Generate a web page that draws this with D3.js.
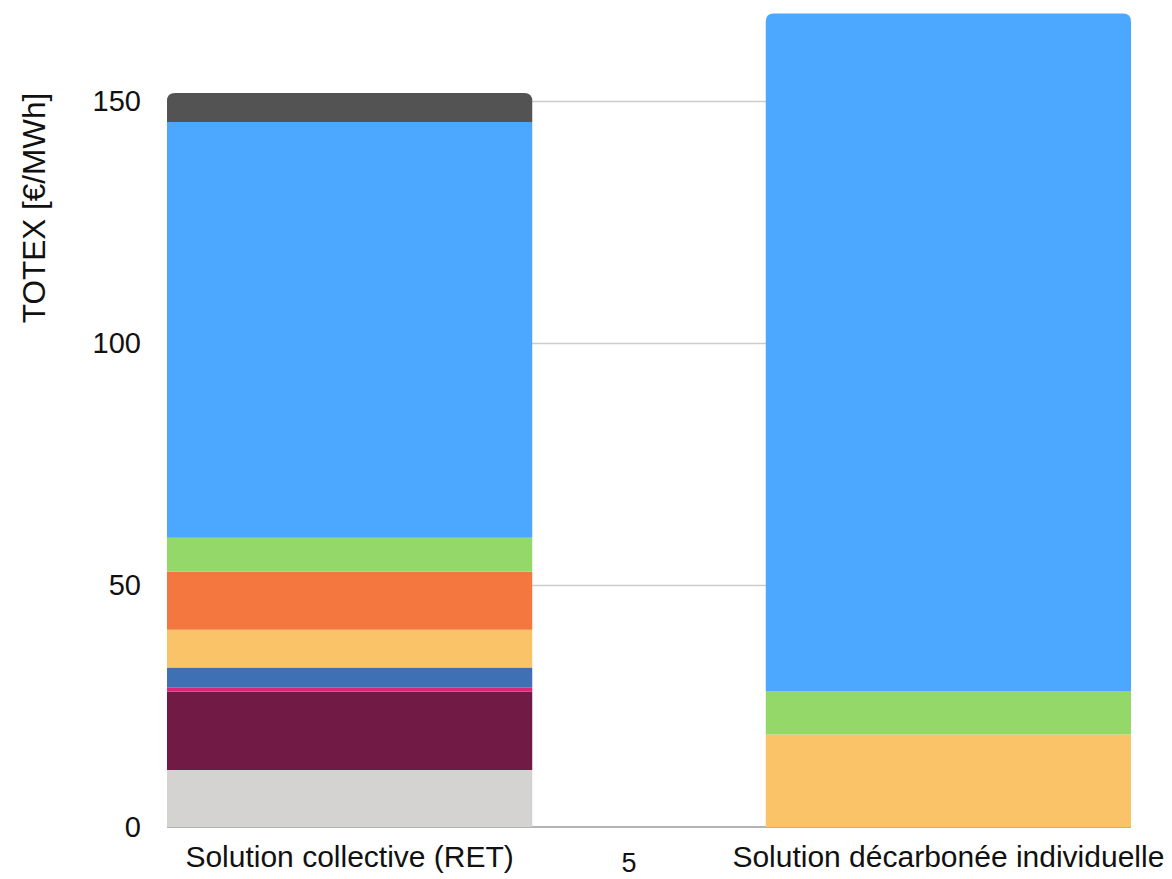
<!DOCTYPE html>
<html>
<head>
<meta charset="utf-8">
<script src="https://cdn.jsdelivr.net/npm/d3@7"></script>
<style>
  html, body { margin: 0; padding: 0; background: #fff; }
  svg { display: block; font-family: "Liberation Sans", Arial, sans-serif; }
</style>
</head>
<body>
<svg id="chart" width="1172" height="879"></svg>
<script>
// Solutions compared (x categories)
const categories = ["Solution collective (RET)", "Solution décarbonée individuelle"];

// Cost components, stacked bottom to top
const seriesKeys = ["s1", "s2", "s3", "s4", "s5", "s6", "s7", "s8", "s9"];
const seriesColors = ["#d4d3d2", "#721a46", "#e0247a", "#4070b4", "#fac367", "#f3773f", "#94d86a", "#4ba7ff", "#535353"];

// TOTEX per component [€/MWh], one array per solution
const collectiveValues  = [11.8, 16.2, 0.75, 4.2, 7.8, 12.0, 7.0, 85.9, 6.0];
const individualValues  = [0, 0, 0, 0, 19.1, 0, 9.0, 140.0, 0];

// Y axis ticks
const yTicks = [0, 50, 100, 150];
const yTitle = "TOTEX [€/MWh]";
const footLabel = "5";

const svg = d3.select("#chart");

const x = d3.scaleBand()
  .domain(categories)
  .range([167, 1131])
  .paddingInner(0.39)
  .paddingOuter(0);

const y = d3.scaleLinear()
  .domain([0, 170])
  .range([827, 827 - 170 * 4.84]);

const rows = categories.map((c, i) => {
  const vals = i === 0 ? collectiveValues : individualValues;
  const r = { category: c };
  seriesKeys.forEach((k, j) => r[k] = vals[j]);
  return r;
});

const stacked = d3.stack().keys(seriesKeys)(rows);

// Gridlines
svg.append("g")
  .selectAll("line")
  .data(yTicks.filter(t => t !== 0))
  .join("line")
  .attr("x1", x.range()[0])
  .attr("x2", x.range()[1])
  .attr("y1", d => Math.round(y(d)) + 0.5)
  .attr("y2", d => Math.round(y(d)) + 0.5)
  .attr("stroke", "#cccccc")
  .attr("stroke-width", 1.3);

// Baseline
svg.append("line")
  .attr("x1", x.range()[0])
  .attr("x2", x.range()[1])
  .attr("y1", y(0))
  .attr("y2", y(0))
  .attr("stroke", "#999999")
  .attr("stroke-width", 1.6);

// Topmost non-zero segment per category gets rounded top corners
const topKey = {};
rows.forEach(r => {
  let last = null;
  seriesKeys.forEach(k => { if (r[k] > 0) last = k; });
  topKey[r.category] = last;
});

const radius = 8;
function segPath(x0, w, yTop, yBot, rounded) {
  if (!rounded) return `M${x0},${yBot}V${yTop}H${x0 + w}V${yBot}Z`;
  const r = Math.min(radius, (yBot - yTop), w / 2);
  return `M${x0},${yBot}V${yTop + r}Q${x0},${yTop} ${x0 + r},${yTop}` +
         `H${x0 + w - r}Q${x0 + w},${yTop} ${x0 + w},${yTop + r}V${yBot}Z`;
}

svg.append("g")
  .selectAll("g")
  .data(stacked)
  .join("g")
  .attr("fill", (d, i) => seriesColors[i])
  .selectAll("path")
  .data(d => d.map(p => ({ p, key: d.key })).filter(o => o.p[1] - o.p[0] > 0))
  .join("path")
  .attr("d", o => segPath(
    x(o.p.data.category), x.bandwidth(),
    y(o.p[1]), y(o.p[0]),
    topKey[o.p.data.category] === o.key));

// Y tick labels
svg.append("g")
  .selectAll("text")
  .data(yTicks)
  .join("text")
  .attr("x", 141)
  .attr("y", d => y(d))
  .attr("dy", "0.35em")
  .attr("text-anchor", "end")
  .attr("font-size", 29)
  .attr("fill", "#111")
  .text(d => d);

// Y axis title
svg.append("text")
  .attr("transform", `translate(45,208) rotate(-90)`)
  .attr("text-anchor", "middle")
  .attr("font-size", 31.5)
  .attr("fill", "#111")
  .text(yTitle);

// Category labels
svg.append("g")
  .selectAll("text")
  .data(categories)
  .join("text")
  .attr("x", d => x(d) + x.bandwidth() / 2)
  .attr("y", 867)
  .attr("text-anchor", "middle")
  .attr("font-size", 30)
  .attr("fill", "#111")
  .text(d => d);

// Footer number
svg.append("text")
  .attr("x", 629)
  .attr("y", 872)
  .attr("text-anchor", "middle")
  .attr("font-size", 27)
  .attr("fill", "#111")
  .text(footLabel);
</script>
</body>
</html>
